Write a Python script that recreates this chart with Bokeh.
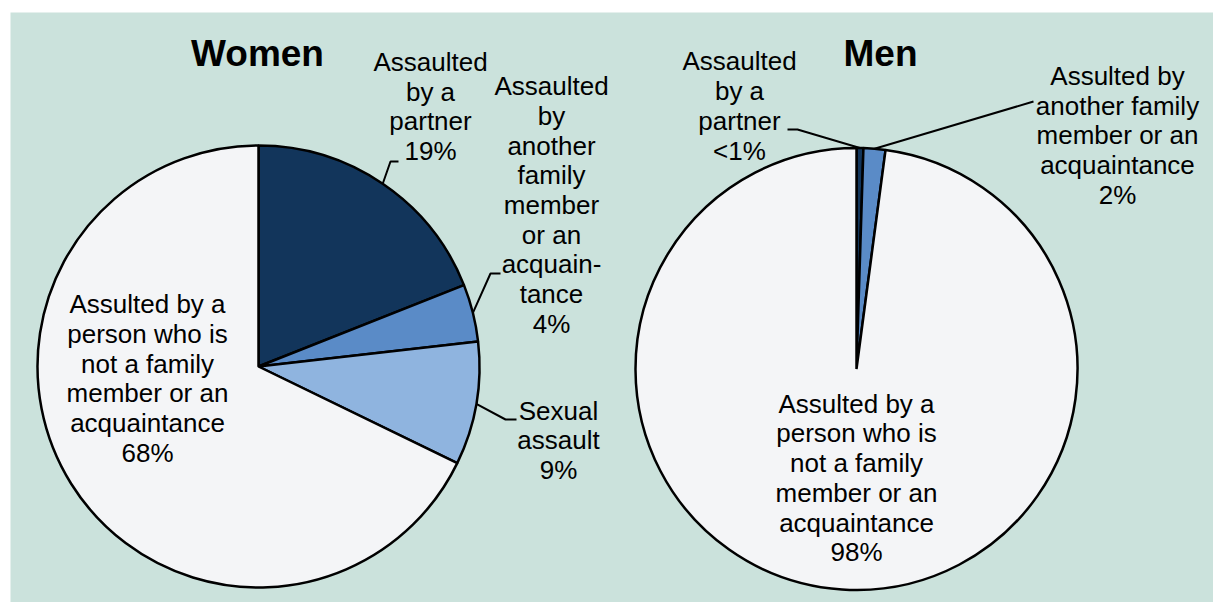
import math
from bokeh.plotting import figure
from bokeh.models import Range1d, ColumnDataSource
from bokeh.core.properties import value
from bokeh.embed import file_html
from bokeh.resources import INLINE

# ---------------- data ----------------
women_categories = ["Assaulted\nby a\npartner",
                    "Assaulted\nby\nanother\nfamily\nmember\nor an\nacquain-\ntance",
                    "Sexual\nassault",
                    "Assulted by a\nperson who is\nnot a family\nmember or an\nacquaintance"]
women_values = [19.0, 4.2, 9.0, 67.8]
women_pct = ["19%", "4%", "9%", "68%"]

men_categories = ["Assaulted\nby a\npartner",
                  "Assulted by\nanother family\nmember or an\nacquaintance",
                  "Assulted by a\nperson who is\nnot a family\nmember or an\nacquaintance"]
men_values = [0.5, 1.6, 97.9]
men_pct = ["<1%", "2%", "98%"]

women_colors = ["#12355b", "#5a8bc7", "#8fb4df", "#f4f5f7"]
men_colors = ["#12355b", "#5a8bc7", "#f4f5f7"]

# ---------------- layout ----------------
W, H = 1213, 602
TOP = 12          # screen y of frame top
BOT = 602         # screen y of frame bottom
LEFT = 10


def sy(y):
    return BOT - y


p = figure(width=W, height=H, output_backend="svg", toolbar_location=None,
           x_axis_location=None, y_axis_location=None,
           x_range=Range1d(LEFT, W), y_range=Range1d(0, BOT - TOP),
           min_border_left=LEFT, min_border_right=0, min_border_top=TOP, min_border_bottom=0)
p.background_fill_color = "#cbe2dc"
p.border_fill_color = "white"
p.outline_line_color = None
p.grid.visible = False

FONT = value("Liberation Sans")


def pie(cx, cy, r, values, colors):
    total = sum(values)
    starts, ends, mids = [], [], []
    c = 0.0
    for v in values:
        c0 = c / total
        c += v
        c1 = c / total
        starts.append(math.pi / 2 - 2 * math.pi * c1)
        ends.append(math.pi / 2 - 2 * math.pi * c0)
        mids.append(math.pi / 2 - 2 * math.pi * (c0 + c1) / 2)
    src = ColumnDataSource(dict(x=[cx] * len(values), y=[cy] * len(values),
                                s=starts, e=ends, color=colors))
    p.wedge(x="x", y="y", radius=r, start_angle="s", end_angle="e", source=src,
            fill_color="color", line_color="black", line_width=2.5)
    return [(cx + r * math.cos(m), cy + r * math.sin(m)) for m in mids]


wc = (258, sy(366))
mc = (856, sy(368.5))
R = 221

w_edges = pie(wc[0], wc[1], R, women_values, women_colors)
m_edges = pie(mc[0], mc[1], R, men_values, men_colors)

# leader lines (elbow, end) in screen coordinates
w_leaders = {0: [(390, 161), (398, 161)], 1: [(490, 273), (500, 273)], 2: [(505, 419), (516, 419)]}
m_leaders = {0: [(797, 129), (787, 129)], 1: [(1033, 101)]}

for edges, leaders in ((w_edges, w_leaders), (m_edges, m_leaders)):
    for i, pts in leaders.items():
        xs = [edges[i][0]] + [q[0] for q in pts]
        ys = [edges[i][1]] + [sy(q[1]) for q in pts]
        p.line(xs, ys, line_color="black", line_width=2)

# labels: center positions (screen)
w_label_pos = [(430, 106), (551, 204.5), (558, 440), (147, 378)]
m_label_pos = [(739, 105.5), (1117, 135), (856, 477.5)]

for cats, pcts, pos in ((women_categories, women_pct, w_label_pos),
                        (men_categories, men_pct, m_label_pos)):
    txt = [c + "\n" + q for c, q in zip(cats, pcts)]
    p.text(x=[q[0] for q in pos], y=[sy(q[1]) for q in pos], text=txt,
           text_align="center", text_baseline="middle", text_font=FONT,
           text_font_size="26px", text_line_height=0.99, text_color="black")

p.text(x=[257, 880], y=[sy(53), sy(53)], text=["Women", "Men"],
       text_align="center", text_baseline="middle", text_font=FONT,
       text_font_size="37px", text_font_style="bold", text_color="black")

open("out.html", "w").write(file_html(p, INLINE))
